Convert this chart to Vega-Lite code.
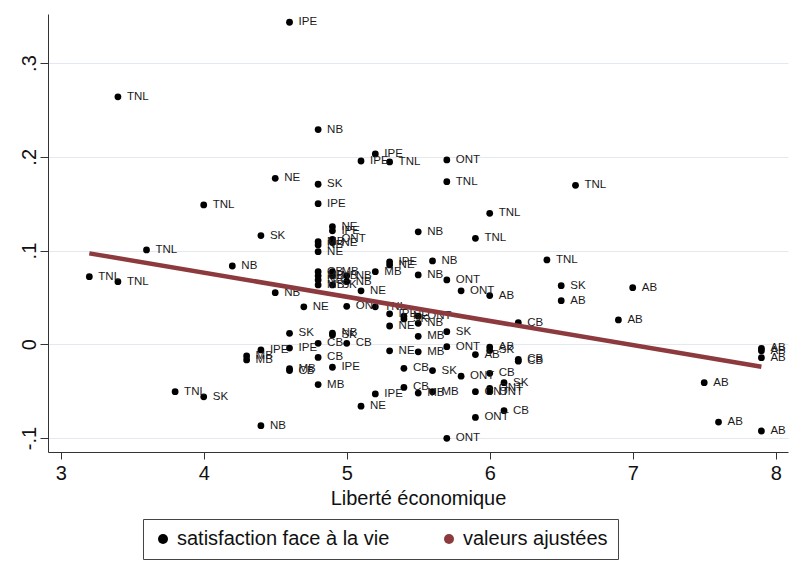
{
  "$schema": "https://vega.github.io/schema/vega-lite/v6.json",
  "width": 740,
  "height": 438,
  "autosize": {"type": "none"},
  "padding": {"left": 48, "top": 14, "right": 8, "bottom": 128},
  "background": "white",
  "config": {"font": "Liberation Sans", "view": {"stroke": null}},
  "datasets": {
    "points": [
      {"liberte": 4.6, "satisfaction": 0.3435, "province": "IPE"},
      {"liberte": 3.4, "satisfaction": 0.264, "province": "TNL"},
      {"liberte": 4.8, "satisfaction": 0.229, "province": "NB"},
      {"liberte": 5.2, "satisfaction": 0.203, "province": "IPE"},
      {"liberte": 5.1, "satisfaction": 0.1955, "province": "IPE"},
      {"liberte": 5.3, "satisfaction": 0.1945, "province": "TNL"},
      {"liberte": 5.7, "satisfaction": 0.1966, "province": "ONT"},
      {"liberte": 4.5, "satisfaction": 0.177, "province": "NE"},
      {"liberte": 4.8, "satisfaction": 0.1707, "province": "SK"},
      {"liberte": 5.7, "satisfaction": 0.1735, "province": "TNL"},
      {"liberte": 6.6, "satisfaction": 0.1696, "province": "TNL"},
      {"liberte": 4.0, "satisfaction": 0.1486, "province": "TNL"},
      {"liberte": 4.8, "satisfaction": 0.150, "province": "IPE"},
      {"liberte": 6.0, "satisfaction": 0.1397, "province": "TNL"},
      {"liberte": 5.5, "satisfaction": 0.120, "province": "NB"},
      {"liberte": 5.9, "satisfaction": 0.113, "province": "TNL"},
      {"liberte": 4.4, "satisfaction": 0.116, "province": "SK"},
      {"liberte": 4.9, "satisfaction": 0.1255, "province": "NE"},
      {"liberte": 4.9, "satisfaction": 0.121, "province": "IPE"},
      {"liberte": 4.9, "satisfaction": 0.112, "province": "ONT"},
      {"liberte": 4.9, "satisfaction": 0.1085, "province": "NE"},
      {"liberte": 4.8, "satisfaction": 0.1095, "province": "MB"},
      {"liberte": 4.8, "satisfaction": 0.106, "province": "NB"},
      {"liberte": 4.8, "satisfaction": 0.0988, "province": "NE"},
      {"liberte": 3.6, "satisfaction": 0.1006, "province": "TNL"},
      {"liberte": 4.2, "satisfaction": 0.0835, "province": "NB"},
      {"liberte": 6.4, "satisfaction": 0.090, "province": "TNL"},
      {"liberte": 5.6, "satisfaction": 0.0889, "province": "NB"},
      {"liberte": 5.3, "satisfaction": 0.088, "province": "IPE"},
      {"liberte": 5.3, "satisfaction": 0.0846, "province": "NE"},
      {"liberte": 3.2, "satisfaction": 0.0721, "province": "TNL"},
      {"liberte": 3.4, "satisfaction": 0.0668, "province": "TNL"},
      {"liberte": 4.8, "satisfaction": 0.0775, "province": "CB"},
      {"liberte": 4.9, "satisfaction": 0.0775, "province": "MB"},
      {"liberte": 4.8, "satisfaction": 0.073, "province": "MB"},
      {"liberte": 4.9, "satisfaction": 0.073, "province": "NB"},
      {"liberte": 5.0, "satisfaction": 0.073, "province": "NB"},
      {"liberte": 4.8, "satisfaction": 0.0686, "province": "NB"},
      {"liberte": 5.0, "satisfaction": 0.0668, "province": "NB"},
      {"liberte": 4.8, "satisfaction": 0.0633, "province": "MB"},
      {"liberte": 4.9, "satisfaction": 0.0633, "province": "SK"},
      {"liberte": 5.2, "satisfaction": 0.0775, "province": "MB"},
      {"liberte": 5.1, "satisfaction": 0.057, "province": "NE"},
      {"liberte": 5.5, "satisfaction": 0.074, "province": "NB"},
      {"liberte": 5.7, "satisfaction": 0.0686, "province": "ONT"},
      {"liberte": 5.8, "satisfaction": 0.057, "province": "ONT"},
      {"liberte": 6.0, "satisfaction": 0.052, "province": "AB"},
      {"liberte": 6.5, "satisfaction": 0.0625, "province": "SK"},
      {"liberte": 6.5, "satisfaction": 0.0465, "province": "AB"},
      {"liberte": 7.0, "satisfaction": 0.0604, "province": "AB"},
      {"liberte": 4.5, "satisfaction": 0.055, "province": "NB"},
      {"liberte": 4.7, "satisfaction": 0.040, "province": "NE"},
      {"liberte": 5.0, "satisfaction": 0.0405, "province": "ONT"},
      {"liberte": 5.2, "satisfaction": 0.040, "province": "TNL"},
      {"liberte": 5.3, "satisfaction": 0.0325, "province": "IPE"},
      {"liberte": 5.4, "satisfaction": 0.030, "province": "NE"},
      {"liberte": 5.4, "satisfaction": 0.027, "province": "SK"},
      {"liberte": 5.5, "satisfaction": 0.030, "province": "ONT"},
      {"liberte": 5.5, "satisfaction": 0.0224, "province": "NB"},
      {"liberte": 5.3, "satisfaction": 0.0195, "province": "NE"},
      {"liberte": 6.2, "satisfaction": 0.023, "province": "CB"},
      {"liberte": 6.9, "satisfaction": 0.026, "province": "AB"},
      {"liberte": 4.6, "satisfaction": 0.0117, "province": "SK"},
      {"liberte": 4.9, "satisfaction": 0.012, "province": "NB"},
      {"liberte": 4.9, "satisfaction": 0.010, "province": "SK"},
      {"liberte": 5.7, "satisfaction": 0.0134, "province": "SK"},
      {"liberte": 5.5, "satisfaction": 0.0085, "province": "MB"},
      {"liberte": 4.8, "satisfaction": 0.001, "province": "CB"},
      {"liberte": 5.0, "satisfaction": 0.001, "province": "CB"},
      {"liberte": 4.6, "satisfaction": -0.004, "province": "IPE"},
      {"liberte": 4.4, "satisfaction": -0.006, "province": "IPE"},
      {"liberte": 5.3, "satisfaction": -0.007, "province": "NE"},
      {"liberte": 5.5, "satisfaction": -0.008, "province": "MB"},
      {"liberte": 5.7, "satisfaction": -0.0026, "province": "ONT"},
      {"liberte": 6.0, "satisfaction": -0.003, "province": "AB"},
      {"liberte": 6.0, "satisfaction": -0.0065, "province": "SK"},
      {"liberte": 5.9, "satisfaction": -0.011, "province": "AB"},
      {"liberte": 6.2, "satisfaction": -0.016, "province": "CB"},
      {"liberte": 6.2, "satisfaction": -0.018, "province": "CB"},
      {"liberte": 7.9, "satisfaction": -0.0043, "province": "AB"},
      {"liberte": 7.9, "satisfaction": -0.0068, "province": "AB"},
      {"liberte": 7.9, "satisfaction": -0.0143, "province": "AB"},
      {"liberte": 4.3, "satisfaction": -0.0125, "province": "MB"},
      {"liberte": 4.3, "satisfaction": -0.0167, "province": "MB"},
      {"liberte": 4.8, "satisfaction": -0.014, "province": "CB"},
      {"liberte": 4.9, "satisfaction": -0.0245, "province": "IPE"},
      {"liberte": 4.6, "satisfaction": -0.026, "province": "MB"},
      {"liberte": 4.6, "satisfaction": -0.028, "province": "CB"},
      {"liberte": 4.8, "satisfaction": -0.043, "province": "MB"},
      {"liberte": 5.4, "satisfaction": -0.0256, "province": "CB"},
      {"liberte": 5.6, "satisfaction": -0.028, "province": "SK"},
      {"liberte": 5.8, "satisfaction": -0.034, "province": "ONT"},
      {"liberte": 6.0, "satisfaction": -0.031, "province": "CB"},
      {"liberte": 6.1, "satisfaction": -0.041, "province": "SK"},
      {"liberte": 7.5, "satisfaction": -0.041, "province": "AB"},
      {"liberte": 3.8, "satisfaction": -0.0505, "province": "TNL"},
      {"liberte": 4.0, "satisfaction": -0.056, "province": "SK"},
      {"liberte": 5.2, "satisfaction": -0.053, "province": "IPE"},
      {"liberte": 5.1, "satisfaction": -0.066, "province": "NE"},
      {"liberte": 5.4, "satisfaction": -0.046, "province": "CB"},
      {"liberte": 5.5, "satisfaction": -0.052, "province": "MB"},
      {"liberte": 5.6, "satisfaction": -0.0505, "province": "MB"},
      {"liberte": 5.9, "satisfaction": -0.0505, "province": "ONT"},
      {"liberte": 6.0, "satisfaction": -0.047, "province": "ONT"},
      {"liberte": 6.0, "satisfaction": -0.0505, "province": "ONT"},
      {"liberte": 6.1, "satisfaction": -0.0708, "province": "CB"},
      {"liberte": 5.9, "satisfaction": -0.078, "province": "ONT"},
      {"liberte": 5.7, "satisfaction": -0.1003, "province": "ONT"},
      {"liberte": 7.6, "satisfaction": -0.083, "province": "AB"},
      {"liberte": 7.9, "satisfaction": -0.0925, "province": "AB"},
      {"liberte": 4.4, "satisfaction": -0.0868, "province": "NB"}
    ],
    "fit": [
      {"liberte": 3.2, "satisfaction": 0.097},
      {"liberte": 7.9, "satisfaction": -0.024}
    ]
  },
  "layer": [
    {
      "data": {"name": "points"},
      "mark": {"type": "point", "filled": true, "size": 46, "opacity": 1, "shape": "circle"},
      "encoding": {
        "x": {
          "field": "liberte", "type": "quantitative",
          "scale": {"domain": [2.911, 8.086], "nice": false, "zero": false},
          "axis": {
            "title": "Liberté économique", "titleFontSize": 20, "titleFontWeight": "normal", "titleColor": "#111",
            "titlePadding": 5,
            "values": [3, 4, 5, 6, 7, 8], "format": "d",
            "labelFontSize": 20, "labelColor": "#111", "labelPadding": 4, "labelFlush": false,
            "tickSize": 7, "tickColor": "#333", "domainColor": "#333", "grid": false
          }
        },
        "y": {
          "field": "satisfaction", "type": "quantitative",
          "scale": {"domain": [-0.1149, 0.3523], "nice": false, "zero": false},
          "axis": {
            "title": null,
            "values": [-0.1, 0, 0.1, 0.2, 0.3],
            "labelExpr": "datum.value == 0 ? '0' : (datum.value < 0 ? '-' : '') + '.' + round(abs(datum.value) * 10)",
            "labelAngle": -90, "labelAlign": "center", "labelBaseline": "alphabetic",
            "labelFontSize": 20, "labelColor": "#111", "labelPadding": 5,
            "tickSize": 8, "tickColor": "#333", "domainColor": "#333",
            "grid": true, "gridColor": "#E3E9EE", "gridWidth": 1
          }
        },
        "color": {
          "datum": "satisfaction face à la vie", "type": "nominal",
          "scale": {"domain": ["satisfaction face à la vie", "valeurs ajustées"], "range": ["#000000", "#8C3A3E"]},
          "legend": {
            "orient": "none", "legendX": 95, "legendY": 505, "direction": "horizontal",
            "title": null, "strokeColor": "#444", "padding": 10, "columnPadding": 49,
            "labelFontSize": 20, "labelColor": "#111", "labelLimit": 400,
            "encode": {
              "symbols": {
                "shape": {"condition": {"test": "datum.index === 1", "value": "stroke"}, "value": "circle"},
                "size": {"condition": {"test": "datum.index === 1", "value": 5625}, "value": 46},
                "stroke": {"condition": {"test": "datum.index === 1", "value": "#8C3A3E"}, "value": "transparent"},
                "strokeWidth": {"condition": {"test": "datum.index === 1", "value": 4.5}, "value": 0},
                "x": {"condition": {"test": "datum.index === 1", "value": 37.5}, "value": 4}
              },
              "labels": {
                "x": {"condition": {"test": "datum.index === 1", "value": 89}, "value": 22}
              },
              "entries": {
                "width": {"condition": {"test": "datum.index === 1", "value": 245}, "value": 0}
              }
            }
          }
        }
      }
    },
    {
      "data": {"name": "points"},
      "mark": {"type": "text", "align": "left", "baseline": "middle", "dx": 9, "fontSize": 11.5, "color": "#1a1a1a"},
      "encoding": {
        "x": {"field": "liberte", "type": "quantitative"},
        "y": {"field": "satisfaction", "type": "quantitative"},
        "text": {"field": "province"}
      }
    },
    {
      "data": {"name": "fit"},
      "mark": {"type": "line", "strokeWidth": 4.5, "strokeCap": "butt", "color": "#8C3A3E"},
      "encoding": {
        "x": {"field": "liberte", "type": "quantitative"},
        "y": {"field": "satisfaction", "type": "quantitative"}
      }
    }
  ]
}
